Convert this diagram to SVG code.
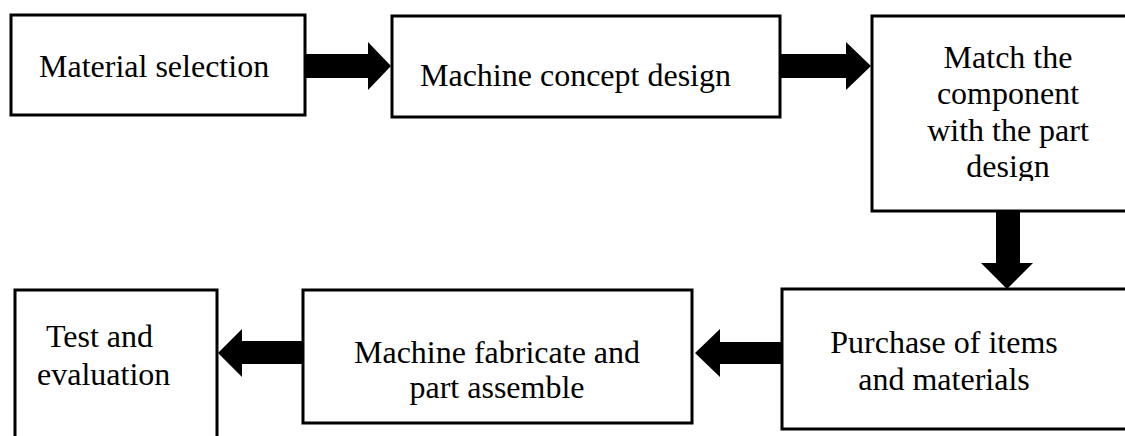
<svg xmlns="http://www.w3.org/2000/svg" width="1125" height="436" viewBox="0 0 1125 436">
<style>
.box{fill:#fff;stroke:#000;stroke-width:3}
.t{font-family:"Liberation Serif","Times New Roman",serif;font-size:32px;fill:#000}
.m{text-anchor:middle}
.arr{fill:#000;stroke:none}
</style>
<defs>
<clipPath id="clip3"><rect x="872" y="15" width="260" height="166"/></clipPath>
</defs>
<rect x="0" y="0" width="1125" height="436" fill="#fff"/>
<g id="node-material-selection">
<rect class="box" x="11" y="15" width="294" height="100"/>
<text class="t" x="39" y="77">Material selection</text>
</g>
<g id="node-machine-concept-design">
<rect class="box" x="392" y="16" width="388" height="101"/>
<text class="t" x="420" y="86">Machine concept design</text>
</g>
<g id="node-match-component">
<rect class="box" x="872" y="16" width="270" height="195"/>
<g clip-path="url(#clip3)">
<text class="t m" x="1008" y="68">Match the</text>
<text class="t m" x="1008" y="104">component</text>
<text class="t m" x="1008" y="141">with the part</text>
<text class="t m" x="1008" y="177">design</text>
</g>
</g>
<g id="node-purchase">
<rect class="box" x="782" y="289" width="360" height="140"/>
<text class="t m" x="944" y="353">Purchase of items</text>
<text class="t m" x="944" y="390">and materials</text>
</g>
<g id="node-fabricate">
<rect class="box" x="303" y="290" width="389" height="133"/>
<text class="t m" x="497" y="363">Machine fabricate and</text>
<text class="t m" x="497" y="398">part assemble</text>
</g>
<g id="node-test">
<rect class="box" x="15" y="290" width="202" height="160"/>
<text class="t" x="46" y="347">Test and</text>
<text class="t" x="37" y="385">evaluation</text>
</g>
<g id="connectors">
<polygon class="arr" points="305,54 368,54 368,42 391,66 368,90 368,78 305,78"/>
<polygon class="arr" points="780,54 846,54 846,42 871,66 846,90 846,78 780,78"/>
<polygon class="arr" points="996,211 1020,211 1020,263 1033,263 1007,289 981,263 996,263"/>
<polygon class="arr" points="782,342 720,342 720,329 695,353 720,377 720,364 782,364"/>
<polygon class="arr" points="303,341 242,341 242,329 218,353 242,377 242,364 303,364"/>
</g>
</svg>
